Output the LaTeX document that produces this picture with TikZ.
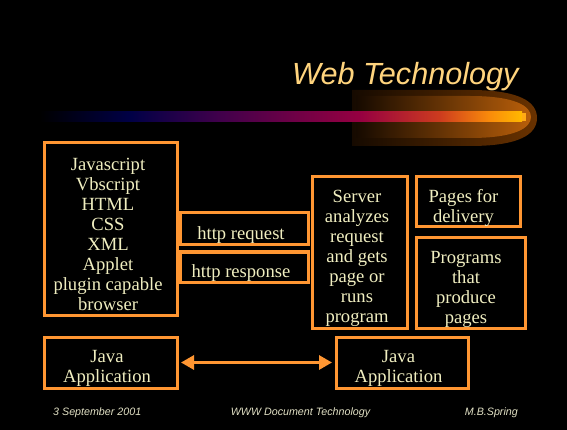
\documentclass[tikz,border=0pt]{standalone}
\usepackage{fontspec}
\setmainfont{Liberation Serif}
\newfontfamily\slidesans{Liberation Sans}
\usetikzlibrary{arrows.meta}

\definecolor{boxorange}{RGB}{255,150,50}
\definecolor{cream}{RGB}{240,238,192}
\definecolor{titlegold}{RGB}{255,212,125}
\definecolor{footgray}{RGB}{225,224,196}
\definecolor{glowedge}{RGB}{22,10,0}
\definecolor{glowdark}{RGB}{105,50,0}
\definecolor{glowlight}{RGB}{185,95,10}
% colour stops of the title rule
\definecolor{ruleA}{RGB}{0,0,0}
\definecolor{ruleB}{RGB}{0,0,70}
\definecolor{ruleC}{RGB}{65,0,75}
\definecolor{ruleD}{RGB}{150,0,65}
\definecolor{ruleE}{RGB}{205,60,30}
\definecolor{ruleF}{RGB}{250,140,10}
\definecolor{ruleG}{RGB}{255,185,0}
\definecolor{ruletip}{RGB}{255,170,20}

\tikzset{
  box/.style={draw=boxorange, line width=3pt, fill=black, inner sep=0pt},
  boxtext/.style={text=cream, align=center, anchor=north, inner sep=0pt,
                  font=\fontsize{18.6}{20}\selectfont},
  foot/.style={text=footgray, anchor=base, inner sep=0pt,
               font=\slidesans\itshape\fontsize{10.7}{12}\selectfont},
  link/.style={boxorange, line width=3pt,
               {Triangle[length=13pt,width=14pt]}-{Triangle[length=13pt,width=14pt]}}
}

\begin{document}
\begin{tikzpicture}[x=1pt, y=-1pt]
  % slide background
  \fill[black] (0,0) rectangle (567,430);
  \useasboundingbox (0,0) rectangle (567,430);

  % comet glow behind the title rule
  \shade[left color=glowedge, right color=glowdark]
    (352,90) -- (470,90) .. controls (520,90) and (537,102) .. (537,118)
    .. controls (537,134) and (520,146) .. (470,146) -- (352,146) -- cycle;
  \shade[left color=glowedge, right color=glowlight]
    (356,96) -- (470,96) .. controls (515,96) and (531,106) .. (531,117)
    .. controls (531,128) and (515,138) .. (470,138) -- (356,138) -- cycle;

  % title rule
  \shade[left color=ruleA, right color=ruleB] (40,112) rectangle (130,122);
  \shade[left color=ruleB, right color=ruleC] (130,112) rectangle (220,122);
  \shade[left color=ruleC, right color=ruleD] (220,112) rectangle (360,122);
  \shade[left color=ruleD, right color=ruleE] (360,112) rectangle (440,122);
  \shade[left color=ruleE, right color=ruleF] (440,112) rectangle (490,122);
  \shade[left color=ruleF, right color=ruleG] (490,112) rectangle (522,122);
  \fill[ruletip] (522,113) rectangle (526,121);

  % title
  \node[anchor=base west, inner sep=0pt, text=titlegold,
        font=\slidesans\itshape\fontsize{30.6}{34}\selectfont] (title) at (292,85) {Web Technology};

  % boxes
  \node[box, minimum width=133, minimum height=172] (browser) at (110.5,229) {};
  \node[box, minimum width=128, minimum height=32] (request) at (244,229) {};
  \node[box, minimum width=128, minimum height=30] (response) at (244,267) {};
  \node[box, minimum width=95, minimum height=151] (server) at (359.5,252.5) {};
  \node[box, minimum width=104, minimum height=50] (pages) at (468,202) {};
  \node[box, minimum width=109, minimum height=90] (programs) at (470.5,283) {};
  \node[box, minimum width=133, minimum height=51] (javaA) at (110.5,362.5) {};
  \node[box, minimum width=132, minimum height=51] (javaB) at (402,362.5) {};

  % box labels
  \node[boxtext] (browsertxt) at (108,157.7)
    {Javascript\\Vbscript\\HTML\\CSS\\XML\\Applet\\plugin capable\\browser};
  \node[boxtext] (requesttxt) at (241,226.3) {http request};
  \node[boxtext] (responsetxt) at (241,264.3) {http response};
  \node[boxtext] (servertxt) at (357,189.5)
    {Server\\analyzes\\request\\and gets\\page or\\runs\\program};
  \node[boxtext] (pagestxt) at (463.5,189.3) {Pages for\\delivery};
  \node[boxtext] (programstxt) at (466,250.7) {Programs\\that\\produce\\pages};
  \node[boxtext] (javaAtxt) at (107,349.7) {Java\\Application};
  \node[boxtext] (javaBtxt) at (398.5,349.7) {Java\\Application};

  % link between the two applications
  \draw[link, shorten <=2.5pt, shorten >=2.5pt] (javaA.east) -- (javaB.west);

  % footer
  \node[foot, anchor=base west] (date) at (53,415) {3 September 2001};
  \node[foot] (course) at (300.5,415) {WWW Document Technology};
  \node[foot, anchor=base east] (author) at (518,415) {M.B.Spring};
\end{tikzpicture}
\end{document}
